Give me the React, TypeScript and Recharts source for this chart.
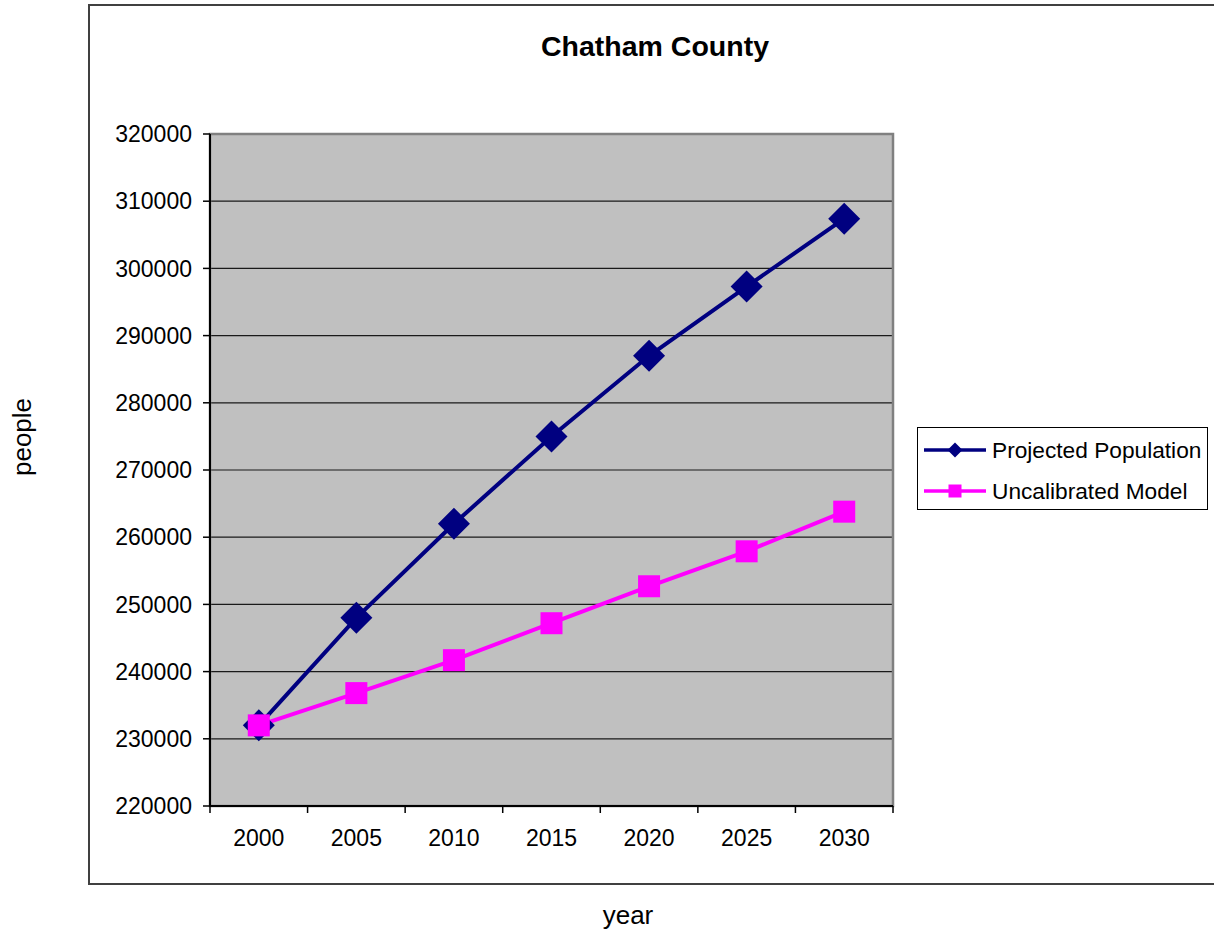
import {
  CartesianGrid,
  Legend,
  Line,
  LineChart,
  ReferenceArea,
  XAxis,
  YAxis,
} from "recharts";

const years = [2000, 2005, 2010, 2015, 2020, 2025, 2030];
const projectedPopulation = [232000, 248000, 262000, 275000, 287000, 297300, 307400];
const uncalibratedModel = [232000, 236800, 241700, 247200, 252700, 257900, 263800];
const yTicks = [220000, 230000, 240000, 250000, 260000, 270000, 280000, 290000, 300000, 310000, 320000];

const data = years.map((year, i) => ({
  year,
  projected: projectedPopulation[i],
  uncalibrated: uncalibratedModel[i],
}));

// category bands: half a step either side of each year, Excel-style tick marks on the edges
const step = years[1] - years[0];
const xDomain = [years[0] - step / 2, years[years.length - 1] + step / 2];
const bandEdges = [...years.map((y) => y - step / 2), xDomain[1]];
const xTicks = [...bandEdges, ...years].sort((a, b) => a - b);

const FONT = "'Liberation Sans', Arial, sans-serif";
const NAVY = "#000080";
const MAGENTA = "#FF00FF";
const X_TICK_SIZE = 7;
const X_TICK_MARGIN = 17;

function DiamondDot(props: any) {
  const { cx, cy, index } = props;
  if (cx == null || cy == null) return null;
  const r = 16;
  return (
    <polygon
      key={`d-${index}`}
      points={`${cx},${cy - r} ${cx + r},${cy} ${cx},${cy + r} ${cx - r},${cy}`}
      fill={NAVY}
    />
  );
}

function SquareDot(props: any) {
  const { cx, cy, index } = props;
  if (cx == null || cy == null) return null;
  const s = 22;
  return <rect key={`s-${index}`} x={cx - s / 2} y={cy - s / 2} width={s} height={s} fill={MAGENTA} />;
}

// edge values get a tick mark, year values get a label
function YearTick(props: any) {
  const { x, y, payload } = props;
  const v = payload.value;
  if (years.includes(v)) {
    return (
      <text x={x} y={y} dy="0.71em" textAnchor="middle" fill="#000" fontSize={23} fontFamily={FONT}>
        {v}
      </text>
    );
  }
  const top = y - X_TICK_MARGIN - X_TICK_SIZE;
  return <line x1={x} y1={top} x2={x} y2={top + X_TICK_SIZE} stroke="#000" strokeWidth={1.5} />;
}

function LegendBox({ payload }: any) {
  return (
    <div
      style={{
        width: 289,
        height: 81,
        border: "1px solid #000",
        background: "#fff",
        position: "relative",
        fontFamily: FONT,
        fontSize: 22.7,
      }}
    >
      {(payload || []).map((entry: any, i: number) => (
        <div
          key={entry.value}
          style={{ position: "absolute", left: 5, top: 8 + i * 41, height: 28, display: "flex", alignItems: "center" }}
        >
          <svg width={64} height={20} style={{ marginRight: 5 }}>
            <line x1={1} y1={10} x2={63} y2={10} stroke={entry.color} strokeWidth={3.5} />
            {i === 0 ? (
              <polygon points="32,2.5 39.5,10 32,17.5 24.5,10" fill={entry.color} />
            ) : (
              <rect x={25.5} y={3.5} width={13} height={13} fill={entry.color} />
            )}
          </svg>
          <span style={{ color: "#000", whiteSpace: "nowrap" }}>{entry.value}</span>
        </div>
      ))}
    </div>
  );
}

export default function App() {
  const tickStyle = { fill: "#000", fontSize: 23, fontFamily: FONT };
  return (
    <div
      style={{
        position: "absolute",
        left: 0,
        top: 0,
        width: 1214,
        height: 936,
        overflow: "hidden",
        background: "#fff",
        fontFamily: FONT,
      }}
    >
      <div
        style={{
          position: "absolute",
          left: 88,
          top: 4,
          width: 1200,
          height: 881,
          border: "2px solid #404040",
          boxSizing: "border-box",
        }}
      />
      <div
        style={{
          position: "absolute",
          left: 455,
          width: 400,
          top: 28,
          textAlign: "center",
          fontWeight: "bold",
          fontSize: 28.5,
          lineHeight: "36px",
          color: "#000",
        }}
      >
        Chatham County
      </div>
      <div
        style={{
          position: "absolute",
          left: 22,
          top: 437,
          transform: "translate(-50%, -50%) rotate(-90deg)",
          fontSize: 26,
          color: "#000",
          whiteSpace: "nowrap",
        }}
      >
        people
      </div>
      <div
        style={{
          position: "absolute",
          left: 528,
          width: 200,
          top: 900,
          textAlign: "center",
          fontSize: 26,
          lineHeight: "30px",
          color: "#000",
        }}
      >
        year
      </div>
      <div style={{ position: "absolute", left: 0, top: 0 }}>
        <LineChart width={1214} height={936} data={data} margin={{ top: 134, right: 321, bottom: 90, left: 90 }}>
          <CartesianGrid vertical={false} fill="#C0C0C0" stroke="#1a1a1a" strokeWidth={1.2} yAxisId="y" />
          <XAxis
            xAxisId="main"
            dataKey="year"
            type="number"
            domain={xDomain}
            ticks={xTicks}
            interval={0}
            allowDataOverflow
            tickLine={false}
            tickSize={X_TICK_SIZE}
            tickMargin={X_TICK_MARGIN}
            axisLine={{ stroke: "#000", strokeWidth: 2 }}
            tick={<YearTick />}
            height={40}
          />
          <YAxis
            yAxisId="y"
            domain={[220000, 320000]}
            ticks={yTicks}
            allowDataOverflow
            width={120}
            tickSize={7}
            tickMargin={11}
            tickLine={{ stroke: "#000", strokeWidth: 1.5 }}
            axisLine={{ stroke: "#000", strokeWidth: 2 }}
            tick={tickStyle}
          />
          <ReferenceArea
            xAxisId="main"
            yAxisId="y"
            x1={xDomain[0]}
            x2={xDomain[1]}
            y1={220000}
            y2={320000}
            fill="none"
            stroke="#808080"
            strokeWidth={2.5}
            ifOverflow="visible"
          />
          <Legend
            layout="horizontal"
            align="center"
            verticalAlign="middle"
            content={<LegendBox />}
            wrapperStyle={{ left: 917, top: 427, width: 291, height: 83 }}
          />
          <Line
            xAxisId="main"
            yAxisId="y"
            type="linear"
            dataKey="projected"
            name="Projected Population"
            stroke={NAVY}
            strokeWidth={4}
            dot={DiamondDot}
            activeDot={false}
            isAnimationActive={false}
          />
          <Line
            xAxisId="main"
            yAxisId="y"
            type="linear"
            dataKey="uncalibrated"
            name="Uncalibrated Model"
            stroke={MAGENTA}
            strokeWidth={4}
            dot={SquareDot}
            activeDot={false}
            isAnimationActive={false}
          />
        </LineChart>
      </div>
    </div>
  );
}
